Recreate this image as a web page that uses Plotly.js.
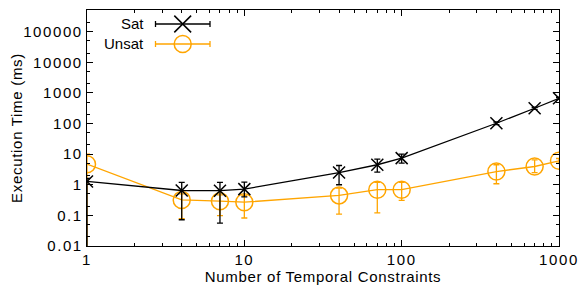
<!DOCTYPE html>
<html>
<head>
<meta charset="utf-8">
<script src="https://cdn.plot.ly/plotly-3.0.1.min.js"></script>
<style>
html,body{margin:0;padding:0;background:#fff;}
#chart{width:581px;height:289px;}
#chart .xtick text, #chart .ytick text{letter-spacing:1.6px;}
#chart .g-xtitle text, #chart .g-ytitle text{letter-spacing:0.7px;}
</style>
</head>
<body>
<div id="chart"></div>
<script>
var constraints = [1, 4, 7, 10, 40, 70, 100, 400, 700, 1000];
var satMean  = [1.28, 0.65, 0.64, 0.72, 2.5, 4.5, 7.4, 102, 315, 665];
var satHigh  = [1.6, 1.19, 1.19, 1.22, 4.26, 6.9, 10, 112, 340, 720];
var satLow   = [0.001, 0.072, 0.056, 0.4, 1.0, 2.6, 5.1, 92, 290, 610];
var unsatMean = [4.7, 0.32, 0.29, 0.27, 0.45, 0.69, 0.69, 2.7, 3.95, 6.05];
var unsatHigh = [10, 0.5, 0.47, 0.44, 0.78, 1.19, 1.19, 4.5, 6.5, 7.2];
var unsatLow  = [0.001, 0.078, 0.098, 0.082, 0.11, 0.12, 0.31, 1.08, 2.5, 5.1];
var seriesNames = ['Sat', 'Unsat'];
var yTickVals = [0.01, 0.1, 1, 10, 100, 1000, 10000, 100000];
var yTickText = ['0.01', '0.1', '1', '10', '100', '1000', '10000', '100000'];
var xTickVals = [1, 10, 100, 1000];
var xTickText = ['1', '10', '100', '1000'];

var ORANGE = '#FFA500';
var FONT = 'Liberation Sans, Arial, Helvetica, sans-serif';

function diff(a, b) { return a.map(function (v, i) { return v - b[i]; }); }

var traces = [
  {
    x: constraints, y: unsatMean, name: seriesNames[1], mode: 'lines+markers',
    line: {color: ORANGE, width: 1.3},
    marker: {symbol: 'circle-open', size: 17, color: ORANGE, line: {width: 1.5, color: ORANGE}},
    error_y: {type: 'data', symmetric: false, array: diff(unsatHigh, unsatMean), arrayminus: diff(unsatMean, unsatLow),
      color: ORANGE, thickness: 1.3, width: 3},
    showlegend: false
  },
  {
    x: constraints, y: satMean, name: seriesNames[0], mode: 'lines+markers',
    line: {color: '#000', width: 1.3},
    marker: {symbol: 'x-thin-open', size: 12, color: '#000', line: {width: 1.5, color: '#000'}},
    error_y: {type: 'data', symmetric: false, array: diff(satHigh, satMean), arrayminus: diff(satMean, satLow),
      color: '#000', thickness: 1.3, width: 3},
    showlegend: false
  }
];

// custom legend (gnuplot style: text on the left, sample on the right)
function px2x(p) { return (p - 87) / 472; }
function px2y(p) { return (246 - p) / 236; }
var legRows = [{name: seriesNames[0], color: '#000', py: 24, sym: 'x'}, {name: seriesNames[1], color: ORANGE, py: 44, sym: 'o'}];
var shapes = [], annotations = [];
legRows.forEach(function (r) {
  var yc = px2y(r.py);
  annotations.push({xref: 'paper', yref: 'paper', x: px2x(146), y: yc, xanchor: 'right', yanchor: 'middle',
    text: r.name, showarrow: false, font: {family: FONT, size: 15, color: '#000'}});
  shapes.push({type: 'line', xref: 'paper', yref: 'paper', x0: px2x(155.5), x1: px2x(210), y0: yc, y1: yc,
    line: {color: r.color, width: 1.3}});
  [155.5, 210].forEach(function (cx) {
    shapes.push({type: 'line', xref: 'paper', yref: 'paper', xsizemode: 'pixel', ysizemode: 'pixel',
      xanchor: px2x(cx), yanchor: yc, x0: 0, x1: 0, y0: -3, y1: 3, line: {color: r.color, width: 1.3}});
  });
  var mx = px2x(182.7);
  if (r.sym === 'x') {
    shapes.push({type: 'line', xref: 'paper', yref: 'paper', xsizemode: 'pixel', ysizemode: 'pixel',
      xanchor: mx, yanchor: yc, x0: -8.4, x1: 8.4, y0: -8.4, y1: 8.4, line: {color: r.color, width: 1.5}});
    shapes.push({type: 'line', xref: 'paper', yref: 'paper', xsizemode: 'pixel', ysizemode: 'pixel',
      xanchor: mx, yanchor: yc, x0: -8.4, x1: 8.4, y0: 8.4, y1: -8.4, line: {color: r.color, width: 1.5}});
  } else {
    shapes.push({type: 'circle', xref: 'paper', yref: 'paper', xsizemode: 'pixel', ysizemode: 'pixel',
      xanchor: mx, yanchor: yc, x0: -8.5, x1: 8.5, y0: -8.5, y1: 8.5, line: {color: r.color, width: 1.5}});
  }
});

var layout = {
  width: 581, height: 289,
  margin: {l: 87, r: 22, t: 10, b: 43},
  paper_bgcolor: '#fff', plot_bgcolor: '#fff',
  font: {family: FONT, size: 15, color: '#000'},
  showlegend: false,
  xaxis: {
    type: 'log', range: [0, 3],
    tickvals: xTickVals, ticktext: xTickText,
    ticks: 'inside', ticklen: 6, tickcolor: '#000', tickwidth: 1,
    minor: {ticks: 'inside', ticklen: 3, tickcolor: '#000', tickwidth: 1, showgrid: false, dtick: 'D1'},
    showline: true, linecolor: '#000', linewidth: 1.2, mirror: 'allticks',
    showgrid: false, zeroline: false,
    tickfont: {family: FONT, size: 15, color: '#000'},
    title: {text: 'Number of Temporal Constraints', font: {family: FONT, size: 15, color: '#000'}, standoff: 2}
  },
  yaxis: {
    type: 'log', range: [-2, 5.707],
    tickvals: yTickVals, ticktext: yTickText,
    ticks: 'inside', ticklen: 6, tickcolor: '#000', tickwidth: 1,
    minor: {ticks: 'inside', ticklen: 3, tickcolor: '#000', tickwidth: 1, showgrid: false, dtick: 'D2'},
    showline: true, linecolor: '#000', linewidth: 1.2, mirror: 'allticks',
    showgrid: false, zeroline: false,
    tickfont: {family: FONT, size: 15, color: '#000'},
    title: {text: 'Execution Time (ms)', font: {family: FONT, size: 15, color: '#000'}, standoff: 6}
  },
  shapes: shapes,
  annotations: annotations
};

Plotly.newPlot('chart', traces, layout, {displayModeBar: false, staticPlot: true});
</script>
</body>
</html>
